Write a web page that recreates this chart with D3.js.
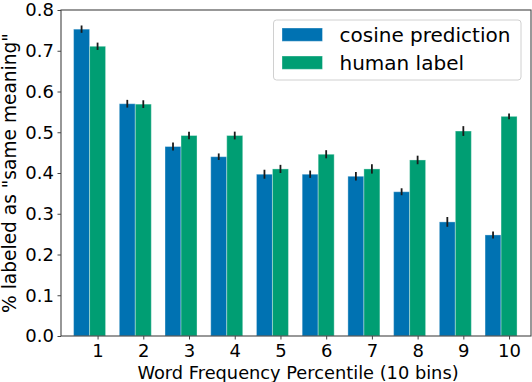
<!DOCTYPE html>
<html>
<head>
<meta charset="utf-8">
<script src="https://cdn.jsdelivr.net/npm/d3@7"></script>
<style>
  body { margin: 0; background: #fff; }
  svg { display: block; font-family: "DejaVu Sans", sans-serif; }
</style>
</head>
<body>
<svg id="chart" width="532" height="382"></svg>
<script>
// data
var bins = [1, 2, 3, 4, 5, 6, 7, 8, 9, 10];
var cosine = [0.753, 0.570, 0.465, 0.440, 0.397, 0.397, 0.392, 0.354, 0.280, 0.248];
var cosineErr = [0.009, 0.0095, 0.010, 0.008, 0.011, 0.009, 0.0105, 0.0085, 0.012, 0.0085];
var human = [0.711, 0.569, 0.492, 0.492, 0.410, 0.446, 0.410, 0.432, 0.503, 0.539];
var humanErr = [0.009, 0.0095, 0.009, 0.0095, 0.010, 0.010, 0.0115, 0.0105, 0.012, 0.007];
var yTicks = [0, 0.1, 0.2, 0.3, 0.4, 0.5, 0.6, 0.7, 0.8];
var seriesNames = ["cosine prediction", "human label"];
var colors = ["#0072B2", "#009E73"];

var barW = 0.35;
var svg = d3.select("#chart");
var plotL = 61, plotR = 531, plotT = 10, plotB = 336;

var x = d3.scaleLinear().domain([0.55, 10.83]).range([plotL, plotR]);
var y = d3.scaleLinear().domain([0, 0.8]).range([plotB, plotT]);

var series = [
  { name: seriesNames[0], vals: cosine, err: cosineErr, off: 0, color: colors[0] },
  { name: seriesNames[1], vals: human, err: humanErr, off: barW, color: colors[1] }
];

var g = svg.append("g");

series.forEach(function(s) {
  var rows = bins.map(function(b, i) { return { b: b, v: s.vals[i], e: s.err[i] }; });
  g.selectAll(null)
    .data(rows)
    .enter()
    .append("rect")
      .attr("x", function(d) { return x(d.b + s.off - barW / 2); })
      .attr("width", function(d) { return x(d.b + s.off + barW / 2) - x(d.b + s.off - barW / 2); })
      .attr("y", function(d) { return y(d.v); })
      .attr("height", function(d) { return y(0) - y(d.v); })
      .attr("fill", s.color)
      .attr("stroke", "#ffffff")
      .attr("stroke-opacity", 0.35)
      .attr("stroke-width", 1);
  g.selectAll(null)
    .data(rows)
    .enter()
    .append("line")
      .attr("x1", function(d) { return x(d.b + s.off); })
      .attr("x2", function(d) { return x(d.b + s.off); })
      .attr("y1", function(d) { return y(d.v - d.e); })
      .attr("y2", function(d) { return y(d.v + d.e); })
      .attr("stroke", "#1a1a1a")
      .attr("stroke-width", 1.8);
});

// axes
var yAxis = d3.axisLeft(y).tickValues(yTicks).tickFormat(d3.format(".1f")).tickSize(3.5).tickPadding(3.5);
var xAxis = d3.axisBottom(x).tickValues(bins.map(function(b) { return b + barW; }))
  .tickFormat(function(d, i) { return bins[i]; }).tickSize(3.5).tickPadding(5);

var ya = svg.append("g").attr("transform", "translate(" + plotL + ",0)").call(yAxis);
var xa = svg.append("g").attr("transform", "translate(0," + plotB + ")").call(xAxis);
[ya, xa].forEach(function(a) {
  a.select(".domain").remove();
  a.selectAll("line").attr("stroke", "#444");
  a.selectAll("text").attr("fill", "#000").style("font-size", "18px").style("font-family", "DejaVu Sans");
});

// frame
svg.append("rect")
  .attr("x", plotL).attr("y", plotT)
  .attr("width", plotR - plotL).attr("height", plotB - plotT)
  .attr("fill", "none").attr("stroke", "#444").attr("stroke-width", 1.1);

// labels
svg.append("text")
  .attr("x", (plotL + plotR) / 2 + 2).attr("y", 378.5)
  .attr("text-anchor", "middle")
  .style("font-size", "17.8px")
  .text("Word Frequency Percentile (10 bins)");

svg.append("text")
  .attr("transform", "translate(15.5," + ((plotT + plotB) / 2) + ") rotate(-90)")
  .attr("text-anchor", "middle")
  .style("font-size", "18.6px")
  .text('% labeled as "same meaning"');

// legend
var leg = svg.append("g");
leg.append("rect")
  .attr("x", 273.5).attr("y", 20)
  .attr("width", 247.5).attr("height", 60)
  .attr("rx", 3)
  .attr("fill", "#fff").attr("fill-opacity", 0.8)
  .attr("stroke", "#d0d0d0");
series.forEach(function(s, i) {
  leg.append("rect")
    .attr("x", 282).attr("y", 28 + i * 28)
    .attr("width", 40.5).attr("height", 13.3)
    .attr("fill", s.color)
    .attr("stroke", "#ffffff").attr("stroke-opacity", 0.35);
  leg.append("text")
    .attr("x", 339.5).attr("y", 41.5 + i * 28)
    .style("font-size", "20px")
    .text(s.name);
});
</script>
</body>
</html>
